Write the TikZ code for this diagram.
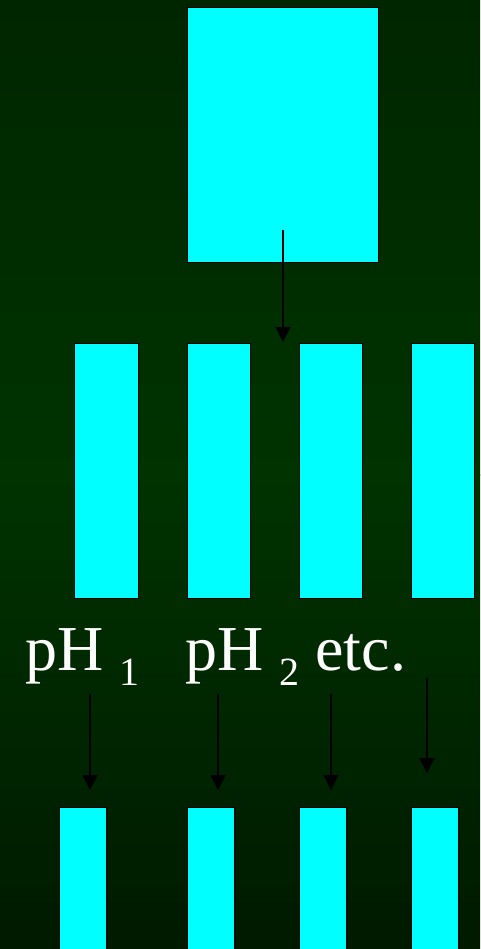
\documentclass[tikz,border=0pt]{standalone}
\usepackage{fontspec}
\setmainfont{Liberation Serif}
\usetikzlibrary{arrows.meta,positioning}

\definecolor{bgtop}{RGB}{0,38,0}
\definecolor{bgmid}{RGB}{0,51,0}
\definecolor{bgbottom}{RGB}{0,26,0}
\definecolor{cellcyan}{RGB}{0,255,255}

\begin{document}
\begin{tikzpicture}[
  x=1pt, y=-1pt,
  cellbox/.style={draw=black, fill=cellcyan, line width=1.4pt,
    inner sep=0pt, anchor=north west},
  flowarrow/.style={-{Triangle[length=15pt,width=15pt]}, black, line width=1.4pt},
  phlabel/.style={font=\fontsize{64}{64}\selectfont, text=white,
    inner sep=0pt, anchor=base west}
]

\newcommand{\phsub}[1]{{\fontsize{40}{40}\selectfont\raisebox{-15pt}{#1}}}

% background and frame
\useasboundingbox (0,0) rectangle (480,949);
\begin{scope}[y=1pt]
  \shade[top color=bgtop, bottom color=bgmid] (0,-475) rectangle (480,0);
  \shade[top color=bgmid, bottom color=bgbottom] (0,-949) rectangle (480,-474);
\end{scope}

% parent culture
\node[cellbox, minimum width=191pt, minimum height=255pt] (parent) at (187,7) {};

% split cultures
\node[cellbox, minimum width=64pt, minimum height=255pt] (split1) at (74,343) {};
\node[cellbox, minimum width=63pt, minimum height=255pt] (split2) at (187,343) {};
\node[cellbox, minimum width=63pt, minimum height=255pt] (split3) at (299,343) {};
\node[cellbox, minimum width=63pt, minimum height=255pt] (split4) at (411,343) {};

% pH labels
\node[phlabel] (ph1) at (25,670) {pH \phsub{1}};
\node[phlabel] (ph2) at (185,670) {pH \phsub{2} etc.};

% incubated cultures
\node[cellbox, minimum width=47pt, minimum height=160pt] (grow1) at (59,807) {};
\node[cellbox, minimum width=47pt, minimum height=160pt] (grow2) at (187,807) {};
\node[cellbox, minimum width=47pt, minimum height=160pt] (grow3) at (299,807) {};
\node[cellbox, minimum width=47pt, minimum height=160pt] (grow4) at (411,807) {};

% arrow ends
\coordinate (splitfrom) at (283,230);
\coordinate (splitto)   at (283,342);
\coordinate (from1) at (90,694);  \coordinate (to1) at (90,790);
\coordinate (from2) at (218,694); \coordinate (to2) at (218,790);
\coordinate (from3) at (331,694); \coordinate (to3) at (331,790);
\coordinate (from4) at (427,678); \coordinate (to4) at (427,773);

\draw[flowarrow] (splitfrom) -- (splitto);
\foreach \i in {1,...,4}
  \draw[flowarrow] (from\i) -- (to\i);

\end{tikzpicture}
\end{document}
